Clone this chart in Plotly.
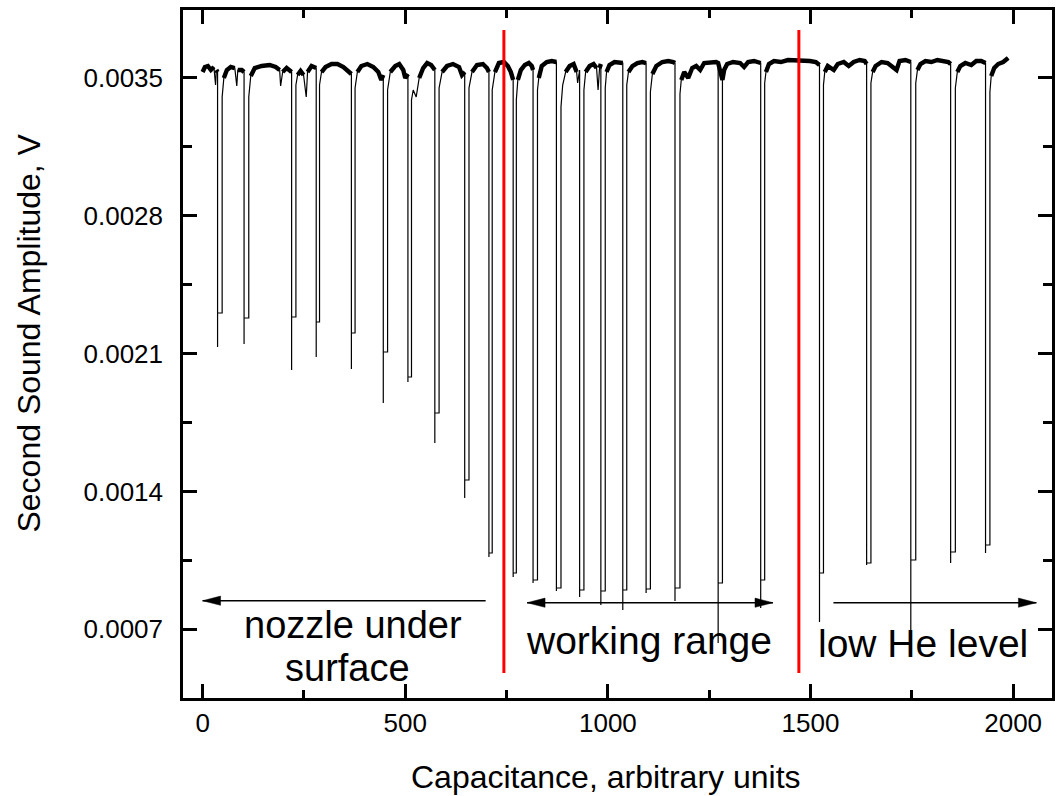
import plotly.graph_objects as go

# ---------------- data ----------------
# dips: left edge (drop), right edge (recovery), floor level, lowest spike
dip_left = [36.9, 102.3, 219.6, 280.3, 367.1, 445.8, 506.6, 573.0, 646.7, 706.5,
            766.3, 815.4, 873.0, 930.3, 982.7, 1036.8, 1094.3, 1165.6, 1272.1, 1377.1,
            1522.2, 1638.5, 1747.5, 1845.8, 1931.9]
dip_right = [48.2, 113.9, 230.2, 288.5, 376.2, 456.4, 515.4, 583.5, 657.3, 714.6,
             774.1, 826.3, 884.3, 940.9, 993.5, 1046.6, 1104.9, 1177.9, 1282.7, 1386.9,
             1532.0, 1649.1, 1759.7, 1857.4, 1942.7]
dip_floor = [0.0023056, 0.0022802, 0.0022853, 0.0022599, 0.0022041, 0.0021076, 0.0019807,
             0.0017980, 0.0014579, 0.0010873, 0.0009858, 0.0009503, 0.0009097, 0.0008995,
             0.0008944, 0.0008995, 0.0009046, 0.0009097, 0.0009350, 0.0009503, 0.0009858,
             0.0010366, 0.0010518, 0.0010924, 0.0011279]
dip_spike = [0.0021330, 0.0021482, 0.0020163, 0.0020822, 0.0020213, 0.0018488, 0.0019553,
             0.0016457, 0.0013665, 0.0010670, 0.0009655, 0.0009350, 0.0008944, 0.0008640,
             0.0008234, 0.0007980, 0.0008843, 0.0008437, 0.0006305, 0.0008081, 0.0007371,
             0.0010264, 0.0005594, 0.0010366, 0.0010873]

# baseline (plateau) points between the dips
base_x = [0.0, 5.7, 13.0, 20.4, 27.8, 32.0, 33.9, 36.9,
          48.2, 52.4, 59.8, 69.6, 79.4, 84.3, 86.8, 96.6, 102.3,
          113.9, 118.8, 128.6, 145.8, 165.5, 180.3, 190.1, 192.5, 197.5, 207.3, 219.6,
          230.2, 234.4, 241.7, 249.1, 255.7, 258.9, 268.8, 280.3,
          288.5, 293.4, 303.2, 318.0, 332.7, 347.5, 359.8, 367.1,
          376.2, 381.9, 391.7, 406.5, 421.2, 433.5, 440.9, 445.8,
          456.4, 463.1, 475.4, 485.2, 495.1, 500.0, 506.6,
          515.4, 519.6, 527.0, 534.4, 544.2, 554.0, 563.9, 573.0,
          583.5, 590.9, 603.2, 617.9, 632.7, 640.0, 646.7,
          657.3, 664.7, 677.0, 691.7, 701.6, 706.5,
          714.6, 721.3, 731.1, 743.4, 753.2, 760.6, 766.3,
          774.1, 777.8, 785.2, 795.0, 804.9, 812.2, 815.4,
          826.3, 829.5, 836.8, 849.1, 861.5, 873.0,
          884.3, 888.5, 895.8, 905.7, 915.5, 922.9, 925.4, 930.3,
          940.9, 945.1, 955.0, 964.7, 972.1, 975.8, 979.5, 982.7,
          993.5, 996.7, 1004.0, 1016.3, 1028.6, 1036.8,
          1046.6, 1050.8, 1060.6, 1072.9, 1085.2, 1094.3,
          1104.9, 1109.8, 1119.6, 1134.4, 1149.1, 1161.4, 1165.6,
          1177.9, 1181.1, 1188.4, 1198.3, 1208.1, 1218.0, 1227.8, 1237.6, 1252.4, 1267.1, 1272.1,
          1282.7, 1286.9, 1294.3, 1309.1, 1326.3, 1336.1, 1346.0, 1360.7, 1377.1,
          1386.9, 1390.1, 1397.5, 1409.8, 1427.0, 1444.2, 1463.9, 1483.6, 1498.4, 1513.1, 1522.2,
          1532.0, 1535.2, 1542.6, 1557.4, 1567.2, 1582.0, 1594.3, 1606.6, 1621.4, 1633.7, 1638.5,
          1649.1, 1653.3, 1660.7, 1675.4, 1690.2, 1712.3, 1719.7, 1734.4, 1747.5,
          1759.7, 1763.9, 1771.3, 1783.6, 1798.3, 1813.1, 1827.8, 1840.1, 1845.8,
          1857.4, 1862.3, 1869.7, 1882.0, 1896.7, 1909.0, 1921.3, 1931.9,
          1942.7, 1945.9, 1953.3, 1963.1, 1975.4, 1987.7]
base_y = [0.0035289, 0.0035543, 0.0035594, 0.0035391, 0.0035543, 0.0034629, 0.0035391, 0.0035289,
          0.0034020, 0.0034985, 0.0035391, 0.0035543, 0.0035492, 0.0034579, 0.0035391, 0.0035391, 0.0035289,
          0.0034020, 0.0035086, 0.0035492, 0.0035594, 0.0035645, 0.0035543, 0.0035391, 0.0034579, 0.0035289, 0.0035492, 0.0035289,
          0.0034629, 0.0035137, 0.0035340, 0.0035137, 0.0034020, 0.0035289, 0.0035594, 0.0035492,
          0.0034629, 0.0035289, 0.0035543, 0.0035695, 0.0035695, 0.0035543, 0.0035289, 0.0035188,
          0.0034477, 0.0035289, 0.0035594, 0.0035695, 0.0035543, 0.0035289, 0.0034887, 0.0035137,
          0.0034376, 0.0035289, 0.0035594, 0.0035695, 0.0035391, 0.0034985, 0.0035188,
          0.0033868, 0.0034376, 0.0034020, 0.0034985, 0.0035492, 0.0035746, 0.0035645, 0.0035391,
          0.0034477, 0.0035289, 0.0035594, 0.0035695, 0.0035543, 0.0035137, 0.0035289,
          0.0034477, 0.0035289, 0.0035645, 0.0035695, 0.0035492, 0.0035289,
          0.0034376, 0.0035289, 0.0035746, 0.0035797, 0.0035594, 0.0035289, 0.0034887,
          0.0033868, 0.0034887, 0.0035391, 0.0035645, 0.0035746, 0.0035594, 0.0035391,
          0.0034376, 0.0034985, 0.0035594, 0.0035797, 0.0035848, 0.0035797,
          0.0033513, 0.0034629, 0.0035289, 0.0035594, 0.0035695, 0.0035289, 0.0034731, 0.0035391,
          0.0034376, 0.0035289, 0.0035594, 0.0035695, 0.0035492, 0.0034376, 0.0035492, 0.0035695,
          0.0034477, 0.0035289, 0.0035645, 0.0035797, 0.0035746, 0.0035746,
          0.0034629, 0.0035289, 0.0035594, 0.0035746, 0.0035797, 0.0035746,
          0.0034274, 0.0035188, 0.0035594, 0.0035797, 0.0035848, 0.0035797, 0.0035746,
          0.0034173, 0.0034887, 0.0035289, 0.0034985, 0.0035492, 0.0035594, 0.0035391, 0.0035746, 0.0035797, 0.0035797, 0.0035746,
          0.0034887, 0.0035391, 0.0035695, 0.0035797, 0.0035746, 0.0035543, 0.0035797, 0.0035848, 0.0035746,
          0.0034731, 0.0035289, 0.0035695, 0.0035848, 0.0035797, 0.0035898, 0.0035898, 0.0035898, 0.0035848, 0.0035797, 0.0035645,
          0.0034629, 0.0035289, 0.0035594, 0.0035391, 0.0035695, 0.0035797, 0.0035594, 0.0035797, 0.0035898, 0.0035848, 0.0035695,
          0.0034731, 0.0035289, 0.0035594, 0.0035797, 0.0035746, 0.0035391, 0.0035848, 0.0035898, 0.0035797,
          0.0034731, 0.0035391, 0.0035695, 0.0035848, 0.0035797, 0.0035898, 0.0035848, 0.0035797, 0.0035695,
          0.0034477, 0.0035289, 0.0035594, 0.0035746, 0.0035645, 0.0035848, 0.0035848, 0.0035746,
          0.0034274, 0.0035086, 0.0035492, 0.0035695, 0.0035797, 0.0036000]

# red boundary lines
red_x = [743.4, 1471.3]
red_top = 0.003742
red_bottom = 0.000478

# arrows: tail x, tip x, y level, double-headed?
arrow_tail_x = [698.4, 800.7, 1556.6]
arrow_tip_x = [0.0, 1407.3, 2057.3]
arrow_y = [0.0008452, 0.0008350, 0.0008350]
arrow_double = [False, True, False]

x_range = [-48.4, 2095.9]
y_range = [0.0003513, 0.0038437]

# ---------------- build the trace ----------------
xs, ys = [], []
k = 0
for bx, by in zip(base_x, base_y):
    while k < len(dip_left) and bx > dip_left[k]:
        xs += [dip_left[k], dip_left[k], dip_right[k]]
        ys += [dip_spike[k], dip_floor[k], dip_floor[k]]
        k += 1
    xs.append(bx)
    ys.append(by)

# thick plateau band (only the near-baseline parts)
bx_t, by_t = [], []
for x, y in zip(base_x, base_y):
    if y >= 0.00348:
        bx_t.append(x)
        by_t.append(y)
    else:
        bx_t.append(None)
        by_t.append(None)

FONT = "Liberation Sans, Arial, sans-serif"
L, R, T, B = 183, 7, 10, 98
W, H = 1062, 796
pw, ph = W - L - R, H - T - B

fig = go.Figure()
fig.add_trace(go.Scatter(x=xs, y=ys, mode="lines",
                         line=dict(color="black", width=1.2), hoverinfo="skip"))
fig.add_trace(go.Scatter(x=bx_t, y=by_t, mode="lines", connectgaps=False,
                         line=dict(color="black", width=4.4), hoverinfo="skip"))

for rx in red_x:
    fig.add_trace(go.Scatter(x=[rx, rx], y=[red_bottom, red_top], mode="lines",
                             line=dict(color="#ff0000", width=3), hoverinfo="skip"))

ux = (x_range[1] - x_range[0]) / pw
uy = (y_range[1] - y_range[0]) / ph
head_len, head_half = 18 * ux, 4.6 * uy


def head(tip, direction, yv):
    bxp = tip - direction * head_len
    fig.add_trace(go.Scatter(x=[tip, bxp, bxp, tip], y=[yv, yv + head_half, yv - head_half, yv],
                             mode="lines", fill="toself", fillcolor="black",
                             line=dict(color="black", width=0.5), hoverinfo="skip"))


for tail, tip, yv, dbl in zip(arrow_tail_x, arrow_tip_x, arrow_y, arrow_double):
    fig.add_trace(go.Scatter(x=[tail, tip], y=[yv, yv], mode="lines",
                             line=dict(color="black", width=1.6), hoverinfo="skip"))
    d = 1 if tip > tail else -1
    head(tip, d, yv)
    if dbl:
        head(tail, -d, yv)

axis_common = dict(showline=True, linewidth=2.5, linecolor="black", mirror="ticks",
                   ticks="inside", ticklen=14, tickwidth=2.5, tickcolor="black",
                   showgrid=False, zeroline=False,
                   tickfont=dict(family=FONT, size=26, color="black"))

fig.update_xaxes(range=x_range, tick0=0, dtick=500,
                 minor=dict(ticks="inside", ticklen=8, tickwidth=2.5, tickcolor="black", dtick=250),
                 ticklabelstandoff=0, **axis_common)
fig.update_yaxes(range=y_range, tick0=0.0007, dtick=0.0007, tickformat=".4f",
                 minor=dict(ticks="inside", ticklen=9, tickwidth=2.5, tickcolor="black", dtick=0.00035),
                 ticklabelstandoff=12, **axis_common)


def px2paper(px, py):
    return (px - L) / pw, (H - B - py) / ph


annots = [
    ("nozzle under", 354, 625, 38, 0),
    ("surface", 348, 668, 38, 0),
    ("working range", 650.5, 640, 39, 0),
    ("low He level", 925.5, 643, 39, 0),
    ("Capacitance, arbitrary units", 607.5, 777, 32, 0),
    ("Second Sound Amplitude, V", 28, 333, 32, -90),
]
for text, px, py, size, ang in annots:
    xp, yp = px2paper(px, py)
    fig.add_annotation(x=xp, y=yp, xref="paper", yref="paper", text=text, showarrow=False,
                       xanchor="center", yanchor="middle", textangle=ang,
                       font=dict(family=FONT, size=size, color="black"))

fig.update_layout(width=W, height=H, margin=dict(l=L, r=R, t=T, b=B, pad=0),
                  plot_bgcolor="white", paper_bgcolor="white", showlegend=False)

fig.write_html("out.html")
